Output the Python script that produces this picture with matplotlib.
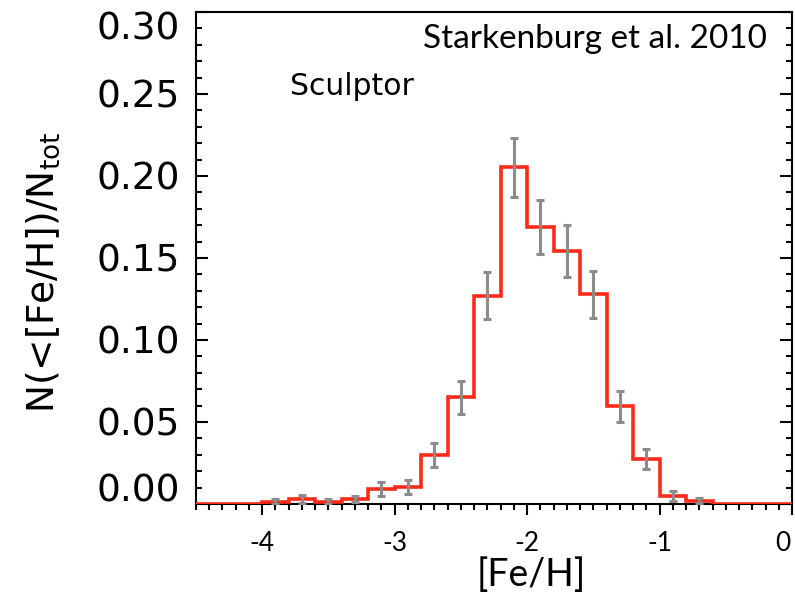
import matplotlib
matplotlib.use("Agg")
import matplotlib.pyplot as plt
import matplotlib.transforms as mtransforms
import numpy as np
from matplotlib.patches import Rectangle
from matplotlib.ticker import FixedLocator, MultipleLocator, FormatStrFormatter

plt.rcParams["axes.unicode_minus"] = False

# Sculptor metallicity distribution, 0.2 dex bins (bin centres in [Fe/H])
feh_centres = [-4.5, -4.3, -4.1, -3.9, -3.7, -3.5, -3.3, -3.1, -2.9, -2.7, -2.5, -2.3,
               -2.1, -1.9, -1.7, -1.5, -1.3, -1.1, -0.9, -0.7, -0.5, -0.3, -0.1]
fraction = [0.0, 0.0, 0.0, 0.0014, 0.0030, 0.0014, 0.0030, 0.0091, 0.0105, 0.0300, 0.0650, 0.1270,
            0.2052, 0.1687, 0.1545, 0.1278, 0.0595, 0.0275, 0.0050, 0.0020, 0.0, 0.0, 0.0]
fraction_err = [0.0, 0.0, 0.0, 0.0015, 0.0023, 0.0015, 0.0020, 0.0044, 0.0042, 0.0073, 0.0103, 0.0143,
                0.0182, 0.0165, 0.0158, 0.0143, 0.0095, 0.0063, 0.0030, 0.0015, 0.0, 0.0, 0.0]
bin_width = 0.2

x_ticks = [-4, -3, -2, -1, 0]
y_ticks = [0.00, 0.05, 0.10, 0.15, 0.20, 0.25, 0.30]

RED = "#ff2a1a"
GREY = "#8c8c8c"

fig = plt.figure(figsize=(7.95, 6.02), dpi=100)
ax = fig.add_axes([196 / 795, (602 - 504) / 602, (792 - 196) / 795, (504 - 12) / 602])

centres = np.array(feh_centres)
edges = np.append(centres - bin_width / 2, centres[-1] + bin_width / 2)
ax.stairs(fraction, edges, baseline=None, color=RED, lw=2.6, zorder=3)

err = np.array(fraction_err)
frac = np.array(fraction)
has_err = err > 0
ax.errorbar(centres[has_err], frac[has_err], yerr=err[has_err], fmt="none",
            ecolor=GREY, elinewidth=2.2, capsize=2.6, capthick=2.2, zorder=4)

ax.set_xlim(-4.5, 0.0)
ax.set_ylim(0.0, 0.30)

for s in ax.spines.values():
    s.set_linewidth(1.5)
    s.set_color("black")

ax.xaxis.set_major_locator(FixedLocator(x_ticks))
ax.xaxis.set_minor_locator(MultipleLocator(0.1))
ax.xaxis.set_major_formatter(FormatStrFormatter("%d"))
ax.yaxis.set_major_locator(FixedLocator(y_ticks))
ax.yaxis.set_minor_locator(MultipleLocator(0.01))
ax.yaxis.set_major_formatter(FormatStrFormatter("%.2f"))

ax.tick_params(axis="x", which="both", direction="out", bottom=True, top=False, width=1.5)
ax.tick_params(axis="x", which="major", length=7.7, pad=12, labelsize=19,
               labelfontfamily="Lato")
ax.tick_params(axis="x", which="minor", length=4.0)
ax.tick_params(axis="y", which="both", direction="in", left=True, right=True, width=1.5)
ax.tick_params(axis="y", which="major", length=8.6, pad=11.5, labelsize=27,
               labelfontfamily="DejaVu Sans")
ax.tick_params(axis="y", which="minor", length=4.3)

# nudge the end labels inward
def shift(label, dx_px, dy_px):
    label.set_transform(label.get_transform() +
                        mtransforms.ScaledTranslation(dx_px / 100, dy_px / 100, fig.dpi_scale_trans))

yt = ax.yaxis.get_major_ticks()
shift(yt[-1].label1, 0, -13)
shift(yt[0].label1, 0, 17)
xt = ax.xaxis.get_major_ticks()
shift(xt[-1].label1, -9, 0)

ax.set_xlabel("[Fe/H]", fontsize=27, family="Lato")
ax.xaxis.set_label_coords((531 - 196) / 596, (504 - 557) / 492)
ax.xaxis.label.set_va("top")

fig.text(43.5 / 795, 1 - 272 / 602, "N(<[Fe/H])/N$_{\\mathrm{tot}}$", rotation=90,
         ha="center", va="center", fontsize=27, family="DejaVu Sans")

ax.text((767 - 196) / 596, (504 - 47.7) / 492, "Starkenburg et al. 2010", transform=ax.transAxes,
        ha="right", va="baseline", fontsize=24, family="Lato")
ax.text((290 - 196) / 596, (504 - 95) / 492, "Sculptor", transform=ax.transAxes,
        ha="left", va="baseline", fontsize=21.5, family="DejaVu Sans")

# trim the lowest y label along the bottom edge of the frame
fig.add_artist(Rectangle((0, 0), 192 / 795, (602 - 503) / 602, transform=fig.transFigure,
                         facecolor="white", edgecolor="none", zorder=5))

fig.savefig("out.png", dpi=100)
